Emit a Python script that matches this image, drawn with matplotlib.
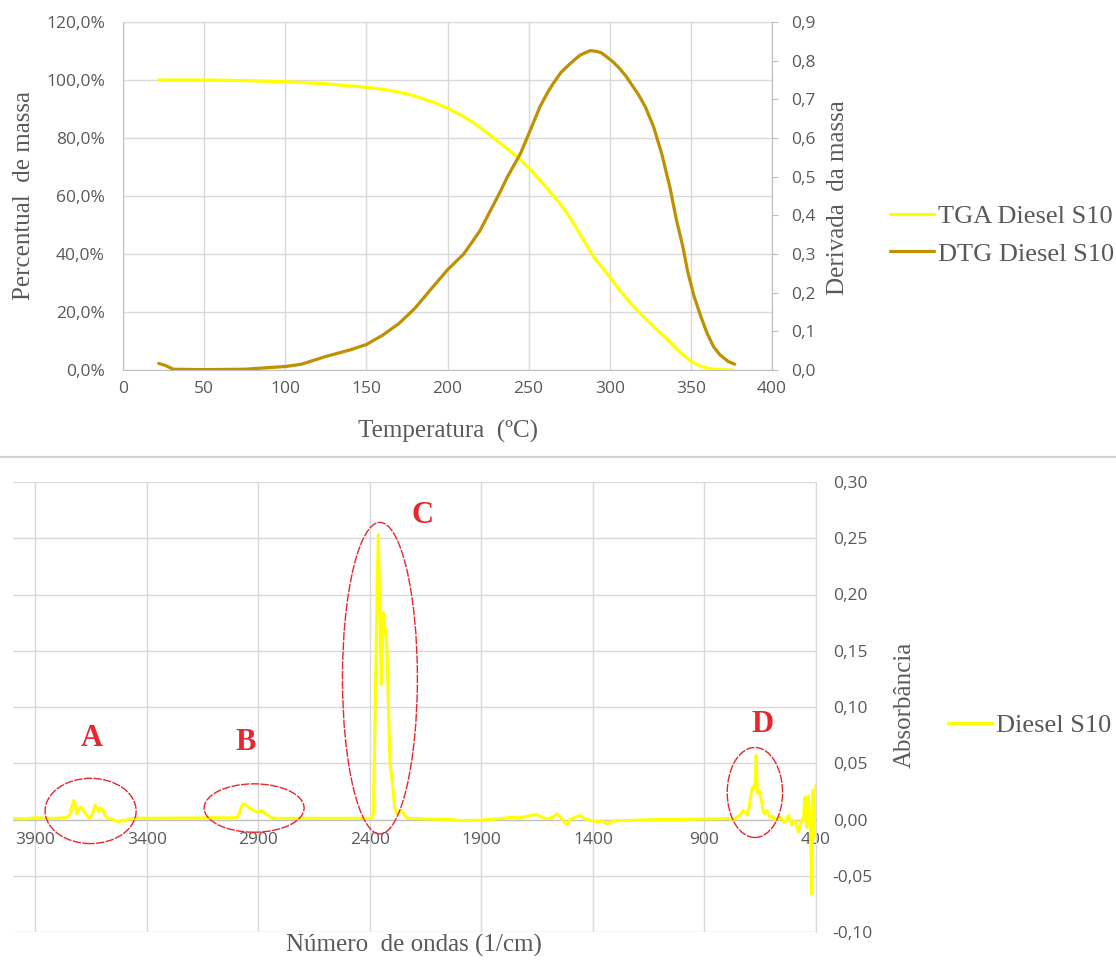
import matplotlib
matplotlib.use("Agg")
import matplotlib.pyplot as plt
from matplotlib.patches import Ellipse
from matplotlib.lines import Line2D
from matplotlib.ticker import FuncFormatter, MultipleLocator

# TGA / DTG curves of Diesel S10
tga_temp = [22, 50, 75, 100, 125, 150, 160, 170, 178, 185, 192, 200, 208, 215,
            222, 230, 238, 245, 252, 260, 268, 275, 282, 290, 298, 305, 312,
            320, 328, 335, 342, 350, 356, 362, 370, 376]
tga_mass = [100.0, 100.0, 99.8, 99.4, 98.7, 97.5, 96.8, 95.8, 94.8, 93.5, 92.2,
            90.3, 88.0, 85.6, 82.8, 79.3, 75.8, 72.5, 68.5, 63.5, 58.3, 53.0,
            46.5, 39.0, 33.5, 28.3, 23.5, 18.8, 14.4, 10.9, 6.8, 3.0, 1.3, 0.4,
            0.1, 0.0]

dtg_temp = [22, 26, 31, 50, 75, 100, 110, 125, 140, 150, 160, 170, 180, 190,
            200, 210, 220, 232, 237, 245, 251, 257, 262, 265, 270, 275, 279,
            282, 288, 292, 295, 302, 306, 310, 314, 318, 322, 327, 332, 337,
            341, 345, 348, 352, 356, 360, 364, 368, 373, 377]
dtg_val = [0.017, 0.012, 0.002, 0.001, 0.002, 0.009, 0.015, 0.035, 0.052, 0.066,
           0.09, 0.12, 0.16, 0.21, 0.259, 0.30, 0.36, 0.457, 0.50, 0.56, 0.62,
           0.681, 0.72, 0.74, 0.77, 0.79, 0.805, 0.815, 0.826, 0.824, 0.82,
           0.797, 0.78, 0.76, 0.735, 0.71, 0.68, 0.629, 0.56, 0.474, 0.39,
           0.32, 0.255, 0.19, 0.14, 0.095, 0.06, 0.039, 0.022, 0.015]

# FTIR spectrum (wavenumber in 1/cm, absorbance)
ftir_wn = [4000, 3950, 3900, 3850, 3800, 3760, 3745, 3735, 3728, 3720, 3713,
           3705, 3695, 3685, 3670, 3658, 3645, 3632, 3624, 3616, 3608, 3598,
           3588, 3575, 3560, 3540, 3525, 3510, 3498, 3480, 3450, 3300, 3100,
           3000, 2990, 2975, 2967, 2955, 2945, 2930, 2915, 2905, 2895, 2885,
           2872, 2860, 2845, 2830, 2800, 2600, 2400, 2390, 2384, 2377, 2368,
           2362, 2357, 2353, 2349, 2345, 2340, 2335, 2325, 2318, 2310, 2300,
           2290, 2280, 2268, 2258, 2245, 2230, 2150, 2050, 1980, 1900, 1800,
           1770, 1727, 1682, 1652, 1630, 1607, 1580, 1562, 1547, 1532, 1518,
           1510, 1502, 1480, 1458, 1440, 1428, 1380, 1360, 1338, 1315, 1280,
           1248, 1200, 1100, 1000, 900, 830, 800, 770, 755, 740, 725, 715, 710,
           700, 690, 684, 678, 672, 668, 664, 660, 654, 648, 643, 636, 630, 620,
           612, 606, 595, 583, 572, 561, 550, 539, 530, 523, 515, 508, 500, 493,
           486, 479, 471, 463, 456, 452, 449, 445, 441, 437, 434, 430, 426, 422,
           419, 417, 415, 413, 410, 408, 405, 403, 401, 400]
ftir_abs = [0.001, 0.0005, 0.0015, 0.001, 0.001, 0.002, 0.004, 0.012, 0.017,
            0.012, 0.005, 0.009, 0.011, 0.008, 0.004, 0.001, 0.004, 0.0125,
            0.011, 0.007, 0.010, 0.009, 0.004, 0.001, 0.0005, -0.001, -0.002,
            -0.0005, -0.0015, 0.0005, 0.001, 0.0012, 0.0015, 0.0015, 0.003,
            0.012, 0.014, 0.013, 0.011, 0.009, 0.0075, 0.0065, 0.007, 0.008,
            0.006, 0.004, 0.002, 0.001, 0.001, 0.001, 0.001, 0.002, 0.006,
            0.088, 0.20, 0.253, 0.20, 0.16, 0.12, 0.15, 0.184, 0.175, 0.158,
            0.11, 0.05, 0.035, 0.012, 0.005, 0.007, 0.008, 0.004, 0.001,
            0.0005, 0.0, -0.001, -0.0005, 0.001, 0.002, 0.0015, 0.0036, 0.0045,
            0.002, 0.0006, 0.002, 0.005, 0.0027, -0.0015, -0.0045, -0.003, 0.0,
            0.002, 0.0036, 0.001, 0.0, -0.002, -0.001, -0.004, -0.0015, -0.001,
            -0.001, -0.0005, 0.0, 0.0, 0.0005, 0.0006, 0.001, 0.0, 0.002, 0.004,
            0.008, 0.006, 0.004, 0.01, 0.024, 0.029, 0.028, 0.035, 0.057, 0.030,
            0.023, 0.025, 0.020, 0.015, 0.007, 0.005, 0.008, 0.004, 0.002,
            0.003, -0.001, 0.001, 0.002, -0.001, -0.0025, 0.001, 0.0035,
            -0.002, -0.005, -0.002, -0.001, -0.006, -0.011, -0.005, -0.001,
            0.002, 0.012, 0.020, -0.002, -0.007, 0.015, 0.021, 0.005, -0.004,
            -0.030, -0.066, -0.02, 0.010, 0.026, 0.005, -0.016, 0.010, 0.025,
            0.029, 0.030]

# band markers: label, centre (wn, abs), width, height, label position
bands = ["A", "B", "C", "D"]
band_centre = [(3652, 0.0076), (2919, 0.0102), (2355, 0.1256), (674, 0.024)]
band_size = [(408, 0.058), (448, 0.043), (336, 0.277), (248, 0.080)]
band_text = [(3645, 0.072), (2955, 0.068), (2166, 0.270), (640, 0.084)]

YELLOW = "#FFFF00"
GOLD = "#BF9000"
GRID = "#D9D9D9"
TICK = "#595959"
SERIF = "Liberation Serif"
SANS = "Open Sans"

plt.rcParams["font.family"] = SANS
plt.rcParams["font.size"] = 12.5

fig = plt.figure(figsize=(11.16, 9.65), dpi=100)

# ---------- top: thermogravimetry ----------
ax1 = fig.add_axes([123 / 1116, 1 - 370 / 965, 649 / 1116, 348 / 965])
ax1.plot(tga_temp, tga_mass, color=YELLOW, lw=2.3, label="TGA Diesel S10",
         solid_capstyle="round", solid_joinstyle="round", zorder=3)
ax1.set_xlim(0, 400)
ax1.set_ylim(0, 120)
ax1.xaxis.set_major_locator(MultipleLocator(50))
ax1.yaxis.set_major_locator(MultipleLocator(20))
ax1.yaxis.set_major_formatter(FuncFormatter(lambda v, p: f"{v:.1f}%".replace(".", ",")))
ax1.grid(True, color=GRID, lw=1)
ax1.set_axisbelow(True)
for s in ax1.spines.values():
    s.set_color(GRID)
ax1.spines["left"].set_color("#BFBFBF")
ax1.spines["bottom"].set_color("#BFBFBF")
ax1.tick_params(axis="both", length=0, colors=TICK)
ax1.tick_params(axis="x", pad=8)
ax1.tick_params(axis="y", pad=13)
ax1.set_xlabel("Temperatura  (ºC)", family=SERIF, fontsize=18, color=TICK, va="center")
ax1.xaxis.set_label_coords(0.5, -0.178)
ax1.set_ylabel("Percentual  de massa", family=SERIF, fontsize=18, color=TICK, va="center")
ax1.yaxis.set_label_coords(-0.1525, 0.5)

ax2 = ax1.twinx()
ax2.plot(dtg_temp, dtg_val, color=GOLD, lw=2.3, label="DTG Diesel S10",
         solid_capstyle="round", solid_joinstyle="round", zorder=3)
ax2.set_ylim(0, 0.9)
ax2.yaxis.set_major_locator(MultipleLocator(0.1))
ax2.yaxis.set_major_formatter(FuncFormatter(lambda v, p: f"{v:.1f}".replace(".", ",")))
for s in ax2.spines.values():
    s.set_visible(False)
ax2.spines["right"].set_visible(True)
ax2.spines["right"].set_color("#BFBFBF")
ax2.tick_params(axis="y", length=4.5, color="#BFBFBF", colors=TICK, pad=9)
ax2.set_ylabel("Derivada  da massa", family=SERIF, fontsize=18, color=TICK, va="center")
ax2.yaxis.set_label_coords(1.1017, 0.494)

h1, l1 = ax1.get_legend_handles_labels()
h2, l2 = ax2.get_legend_handles_labels()
fig.legend(h1 + h2, l1 + l2, loc="center left",
           bbox_to_anchor=(890 / 1116, 1 - 235 / 965), frameon=False,
           prop={"family": SERIF, "size": 19}, labelcolor=TICK,
           handlelength=1.65, handletextpad=0.15, labelspacing=0.55,
           borderpad=0, borderaxespad=0)

# separator between the two panels
fig.add_artist(Line2D([0, 1], [1 - 457 / 965] * 2, transform=fig.transFigure,
                      color="#D4D4D4", lw=1.6))

# ---------- bottom: FTIR ----------
ax3 = fig.add_axes([13 / 1116, 1 - 932 / 965, 803 / 1116, 450 / 965])
ax3.plot(ftir_wn, ftir_abs, color=YELLOW, lw=2.2, label="Diesel S10", zorder=3)
ax3.set_xlim(4000, 400)
ax3.set_ylim(-0.10, 0.30)
ax3.set_xticks(range(3900, 399, -500))
ax3.yaxis.set_major_locator(MultipleLocator(0.05))
ax3.yaxis.set_major_formatter(FuncFormatter(lambda v, p: f"{v:.2f}".replace(".", ",")))
ax3.yaxis.tick_right()
ax3.grid(True, color=GRID, lw=1)
ax3.set_axisbelow(True)
for s in ax3.spines.values():
    s.set_visible(False)
ax3.spines["right"].set_visible(True)
ax3.spines["right"].set_color(GRID)
ax3.spines["bottom"].set_visible(True)
ax3.spines["bottom"].set_position(("data", 0))
ax3.spines["bottom"].set_color("#BFBFBF")
ax3.tick_params(axis="both", length=0, colors=TICK)
ax3.tick_params(axis="x", pad=9)
ax3.tick_params(axis="y", pad=12)
ax3.set_xlabel("Número  de ondas (1/cm)", family=SERIF, fontsize=18, color=TICK, va="center")
ax3.xaxis.set_label_coords(0.4994, -0.031)
ax3.yaxis.set_label_position("right")
ax3.set_ylabel("Absorbância", family=SERIF, fontsize=18, color=TICK, va="center")
ax3.yaxis.set_label_coords(1.111, 0.504)

for name, c, (w, h), t in zip(bands, band_centre, band_size, band_text):
    ax3.add_patch(Ellipse(c, w, h, fill=False, ec="#E8262D", lw=1.0,
                          ls=(0, (6, 1)), zorder=4))
    ax3.text(t[0], t[1], name, family=SERIF, fontsize=22, fontweight="bold",
             color="#E8262D", ha="center", va="center", zorder=5)

ax3.legend(loc="center left", bbox_to_anchor=(948 / 1116, 1 - 725 / 965),
           bbox_transform=fig.transFigure, frameon=False,
           prop={"family": SERIF, "size": 19}, labelcolor=TICK,
           handlelength=1.65, handletextpad=0.15, borderpad=0, borderaxespad=0)

fig.savefig("out.png", dpi=100)
